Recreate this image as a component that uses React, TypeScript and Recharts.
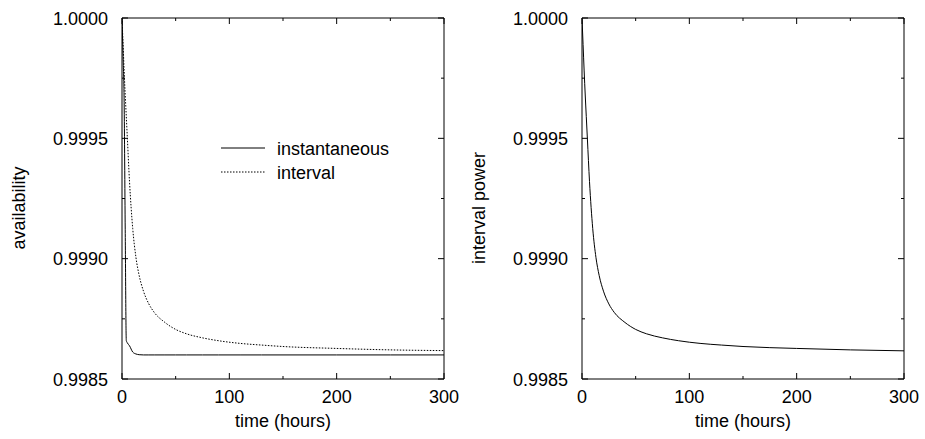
import React from "react";
import { LineChart, Line, XAxis, YAxis, Legend, Label } from "recharts";

// time axis samples (hours)
const hours = [0, 1, 2, 3, 4, 5, 7, 10, 13, 16, 20, 25, 30, 40, 50, 60, 75, 90, 110, 130, 150, 200, 250, 300];

// left panel
const instantaneous = [
  1.0, 0.99984, 0.99965, 0.99912, 0.99866, 0.99865, 0.998638, 0.998612, 0.998604, 0.998601, 0.9986, 0.9986,
  0.9986, 0.9986, 0.9986, 0.9986, 0.9986, 0.9986, 0.9986, 0.9986, 0.9986, 0.9986, 0.9986, 0.9986,
];
const interval = [
  1.0, 0.99989, 0.99978, 0.99968, 0.99959, 0.9995, 0.99932, 0.999125, 0.999005, 0.99893, 0.998865, 0.998812,
  0.998777, 0.998735, 0.998706, 0.998688, 0.998671, 0.998659, 0.998648, 0.998641, 0.998635, 0.998627, 0.998621, 0.998618,
];

// right panel
const intervalPower = [
  1.0, 0.99989, 0.99978, 0.99968, 0.99959, 0.9995, 0.99932, 0.999125, 0.999005, 0.99893, 0.998865, 0.998812,
  0.998777, 0.998735, 0.998706, 0.998688, 0.998671, 0.998659, 0.998648, 0.998641, 0.998635, 0.998627, 0.998621, 0.998617,
];

const xTicks = [0, 50, 100, 150, 200, 250, 300];
const yTicks = [0.9985, 0.99875, 0.999, 0.99925, 0.9995, 0.99975, 1.0];

const availabilityData = hours.map((t, i) => ({ t, instantaneous: instantaneous[i], interval: interval[i] }));
const powerData = hours.map((t, i) => ({ t, power: intervalPower[i] }));

const FONT = "'Liberation Sans', Arial, Helvetica, sans-serif";
const FS = 18;

const majorX = (v: number) => v % 100 === 0;
const majorY = (v: number) => Math.abs(v * 2000 - Math.round(v * 2000)) < 1e-6;

const BottomTick = (p: any) => {
  const big = majorX(p.payload.value);
  return (
    <g>
      <line x1={p.x} x2={p.x} y1={p.y} y2={p.y - (big ? 6 : 3)} stroke="#000" />
      {big && (
        <text x={p.x} y={p.y + 24} textAnchor="middle" fontSize={FS} fontFamily={FONT} fill="#000">
          {p.payload.value}
        </text>
      )}
    </g>
  );
};

const TopTick = (p: any) => {
  const big = majorX(p.payload.value);
  return <line x1={p.x} x2={p.x} y1={p.y} y2={p.y + (big ? 6 : 3)} stroke="#000" />;
};

const LeftTick = (p: any) => {
  const big = majorY(p.payload.value);
  return (
    <g>
      <line x1={p.x} x2={p.x + (big ? 6 : 3)} y1={p.y} y2={p.y} stroke="#000" />
      {big && (
        <text x={p.x - 14} y={p.y + 6.5} textAnchor="end" fontSize={FS} fontFamily={FONT} fill="#000">
          {p.payload.value.toFixed(4)}
        </text>
      )}
    </g>
  );
};

const RightTick = (p: any) => {
  const big = majorY(p.payload.value);
  return <line x1={p.x} x2={p.x - (big ? 6 : 3)} y1={p.y} y2={p.y} stroke="#000" />;
};

const yTitle = (text: string, x: number) => () => (
  <text
    x={x}
    y={208}
    transform={`rotate(-90, ${x}, 208)`}
    textAnchor="middle"
    fontSize={FS}
    fontFamily={FONT}
    fill="#000"
  >
    {text}
  </text>
);

const xTitle = (props: any) => {
  const vb = props.viewBox;
  return (
    <text x={vb.x + vb.width / 2} y={vb.y + 48} textAnchor="middle" fontSize={FS} fontFamily={FONT} fill="#000">
      time (hours)
    </text>
  );
};

// frame: bottom/left axes with labels, top/right mirrored ticks
const frame = (leftW: number, rightW: number, title: string, titleX: number) => [
  <XAxis
    key="xb"
    xAxisId="b"
    dataKey="t"
    type="number"
    domain={[0, 300]}
    ticks={xTicks}
    interval={0}
    allowDataOverflow
    height={60}
    tickSize={0}
    tickMargin={0}
    tickLine={false}
    axisLine={{ stroke: "#000" }}
    tick={(p: any) => <BottomTick {...p} />}
  >
    <Label content={xTitle} />
  </XAxis>,
  <XAxis
    key="xt"
    xAxisId="t"
    orientation="top"
    dataKey="t"
    type="number"
    domain={[0, 300]}
    ticks={xTicks}
    interval={0}
    allowDataOverflow
    height={18}
    tickSize={0}
    tickMargin={0}
    tickLine={false}
    axisLine={{ stroke: "#000" }}
    tick={(p: any) => <TopTick {...p} />}
  />,
  <YAxis
    key="yl"
    yAxisId="l"
    type="number"
    domain={[0.9985, 1.0]}
    ticks={yTicks}
    interval={0}
    allowDataOverflow
    width={leftW}
    tickSize={0}
    tickMargin={0}
    tickLine={false}
    axisLine={{ stroke: "#000" }}
    tick={(p: any) => <LeftTick {...p} />}
  >
    <Label content={yTitle(title, titleX)} />
  </YAxis>,
  <YAxis
    key="yr"
    yAxisId="r"
    orientation="right"
    type="number"
    domain={[0.9985, 1.0]}
    ticks={yTicks}
    interval={0}
    allowDataOverflow
    width={rightW}
    tickSize={0}
    tickMargin={0}
    tickLine={false}
    axisLine={{ stroke: "#000" }}
    tick={(p: any) => <RightTick {...p} />}
  />,
];

const renderLegend = (props: any) => {
  const items = props.payload || [];
  return (
    <svg width={200} height={48} style={{ display: "block" }}>
      {items.map((e: any, i: number) => (
        <g key={e.value}>
          <line
            x1={0}
            x2={44}
            y1={12 + 24 * i}
            y2={12 + 24 * i}
            stroke="#000"
            strokeWidth={1}
            strokeDasharray={e.payload?.strokeDasharray}
          />
          <text x={56} y={19 + 24 * i} fontSize={FS} fontFamily={FONT} fill="#000">
            {e.value}
          </text>
        </g>
      ))}
    </svg>
  );
};

export default function App() {
  return (
    <div style={{ position: "absolute", left: 0, top: 0, width: 925, height: 439, background: "#fff" }}>
      <div style={{ position: "absolute", left: 0, top: 0 }}>
        <LineChart width={462} height={439} data={availabilityData} margin={{ top: 0, right: 0, bottom: 0, left: 0 }}>
          {frame(122, 18, "availability", 25)}
          <Legend
            layout="vertical"
            align="center"
            verticalAlign="middle"
            content={renderLegend}
            wrapperStyle={{ left: 221, top: 136, width: 200, height: 48 }}
          />
          <Line
            xAxisId="b"
            yAxisId="l"
            type="monotone"
            dataKey="instantaneous"
            name="instantaneous"
            stroke="#000"
            strokeWidth={1}
            dot={false}
            isAnimationActive={false}
          />
          <Line
            xAxisId="b"
            yAxisId="l"
            type="monotone"
            dataKey="interval"
            name="interval"
            stroke="#000"
            strokeWidth={1}
            strokeDasharray="1.5 1.5"
            dot={false}
            isAnimationActive={false}
          />
        </LineChart>
      </div>
      <div style={{ position: "absolute", left: 462, top: 0 }}>
        <LineChart width={463} height={439} data={powerData} margin={{ top: 0, right: 0, bottom: 0, left: 0 }}>
          {frame(120, 21, "interval power", 23)}
          <Line
            xAxisId="b"
            yAxisId="l"
            type="monotone"
            dataKey="power"
            name="interval power"
            stroke="#000"
            strokeWidth={1}
            dot={false}
            isAnimationActive={false}
          />
        </LineChart>
      </div>
    </div>
  );
}
